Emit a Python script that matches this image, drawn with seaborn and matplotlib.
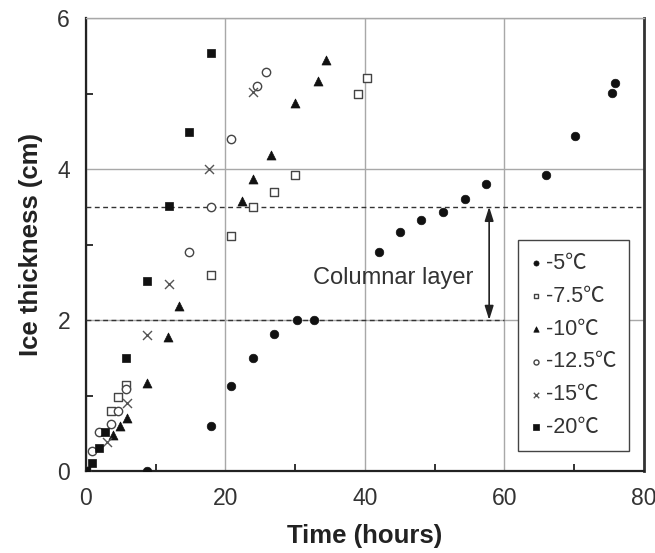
import matplotlib
matplotlib.use("Agg")
import matplotlib.pyplot as plt
import seaborn as sns
import pandas as pd

# ---------------- data ----------------
t_m5 = [0, 8.7, 17.9, 20.8, 24.0, 27.0, 30.3, 32.7, 42.0, 45.0, 48.1, 51.2, 54.4, 57.4, 65.9, 70.1, 75.4, 75.8]
h_m5 = [0, 0, 0.60, 1.13, 1.50, 1.81, 2.0, 2.0, 2.90, 3.16, 3.33, 3.43, 3.60, 3.80, 3.92, 4.44, 5.01, 5.14]

t_m75 = [0, 3.6, 4.6, 5.8, 17.9, 20.8, 24.0, 27.0, 30.0, 39.0, 40.3]
h_m75 = [0, 0.80, 0.98, 1.14, 2.59, 3.11, 3.50, 3.70, 3.92, 5.00, 5.20]

t_m10 = [0, 3.9, 4.9, 5.9, 8.7, 11.7, 13.4, 22.3, 23.9, 26.5, 30.0, 33.3, 34.4]
h_m10 = [0, 0.48, 0.60, 0.70, 1.16, 1.78, 2.18, 3.58, 3.87, 4.18, 4.87, 5.16, 5.45]

t_m125 = [0, 0.8, 1.8, 3.6, 4.6, 5.8, 14.7, 17.9, 20.8, 24.5, 25.8]
h_m125 = [0, 0.27, 0.51, 0.62, 0.80, 1.08, 2.90, 3.50, 4.40, 5.10, 5.28]

t_m15 = [0, 3.0, 5.9, 8.75, 11.9, 17.7, 23.9]
h_m15 = [0, 0.38, 0.90, 1.80, 2.48, 4.00, 5.02]

t_m20 = [0, 0.8, 1.8, 2.7, 5.8, 8.75, 11.95, 14.8, 17.9]
h_m20 = [0, 0.10, 0.30, 0.51, 1.50, 2.51, 3.51, 4.49, 5.54]

labels = ["-5\u2103", "-7.5\u2103", "-10\u2103", "-12.5\u2103", "-15\u2103", "-20\u2103"]

columnar_top = 3.5
columnar_bottom = 2.0
columnar_arrow_x = 57.8
columnar_text = "Columnar layer"

x_ticks = [0, 20, 40, 60, 80]
y_ticks = [0, 2, 4, 6]

# ---------------- style ----------------
sns.set_theme(style="white")
plt.rcParams["font.family"] = ["Liberation Sans", "Noto Sans CJK JP", "DejaVu Sans"]

fig = plt.figure(figsize=(6.55, 5.53), dpi=100)
ax = fig.add_axes([86 / 655, 1 - 471 / 553, (644 - 86) / 655, (471 - 18) / 553])

series = [
    (t_m5, h_m5, dict(marker="o", color="#111111", edgecolor="#111111", linewidth=0.5, s=38)),
    (t_m75, h_m75, dict(marker="s", facecolor="white", edgecolor="#444444", linewidth=1.0, s=34)),
    (t_m10, h_m10, dict(marker="^", color="#111111", edgecolor="#111111", linewidth=0.5, s=42)),
    (t_m125, h_m125, dict(marker="o", facecolor="white", edgecolor="#444444", linewidth=1.0, s=36)),
    (t_m15, h_m15, dict(marker="x", color="#555555", linewidth=1.0, s=42)),
    (t_m20, h_m20, dict(marker="s", color="#111111", edgecolor="#111111", linewidth=0.5, s=40)),
]

for (tx, hy, kw), lab in zip(series, labels):
    df = pd.DataFrame({"t": tx, "h": hy})
    sns.scatterplot(data=df, x="t", y="h", ax=ax, label=lab, zorder=5, **kw)

ax.set_xlim(0, 80)
ax.set_ylim(0, 6)
ax.set_xticks(x_ticks)
ax.set_yticks(y_ticks)
ax.set_xticks([10, 30, 50, 70], minor=True)
ax.set_yticks([1, 3, 5], minor=True)

ax.grid(True, which="major", color="#a8a8a8", linewidth=1.0)
ax.set_axisbelow(True)

ax.tick_params(axis="both", which="major", direction="inout", length=9, width=1.3,
               labelsize=16.5, colors="#222222", labelcolor="#333333", pad=7)
ax.tick_params(axis="both", which="minor", direction="in", length=5, width=1.3,
               colors="#222222", bottom=True, left=True)

for side in ["left", "bottom"]:
    ax.spines[side].set_color("#222222")
    ax.spines[side].set_linewidth(1.6)
ax.spines["right"].set_color("#333333")
ax.spines["right"].set_linewidth(2.0)
ax.spines["top"].set_color("#a8a8a8")
ax.spines["top"].set_linewidth(1.0)

ax.set_xlabel("Time (hours)", fontsize=18.5, fontweight="bold", color="#222222", labelpad=10)
ax.set_ylabel("Ice thickness (cm)", fontsize=18.5, fontweight="bold", color="#222222", labelpad=10)

# columnar layer annotation
ax.axhline(columnar_top, color="#333333", linestyle=(0, (3.5, 2.5)), linewidth=1.0, zorder=3)
ax.axhline(columnar_bottom, xmin=0, xmax=0.75, color="#333333", linestyle=(0, (3.5, 2.5)),
           linewidth=1.0, zorder=3)
ax.annotate("", xy=(columnar_arrow_x, columnar_top), xytext=(columnar_arrow_x, columnar_bottom),
            arrowprops=dict(arrowstyle="<|-|>,head_width=0.22,head_length=0.7",
                            color="#222222", lw=1.2, shrinkA=0, shrinkB=0), zorder=4)
ax.text(55.5, 2.56, columnar_text, fontsize=17, color="#333333", ha="right", va="center", zorder=4)

leg = ax.legend(loc="upper left", bbox_to_anchor=(0.774, 0.51), borderaxespad=0,
                frameon=True, fancybox=False, fontsize=15.5, markerscale=0.6,
                handlelength=0.5, handletextpad=0.2, labelspacing=0.55, borderpad=0.6)
leg.get_frame().set_edgecolor("#444444")
leg.get_frame().set_linewidth(1.0)
leg.get_frame().set_facecolor("white")
leg.get_frame().set_alpha(1.0)
leg.set_zorder(10)
for txt in leg.get_texts():
    txt.set_color("#333333")

fig.savefig("out.png", dpi=100)
